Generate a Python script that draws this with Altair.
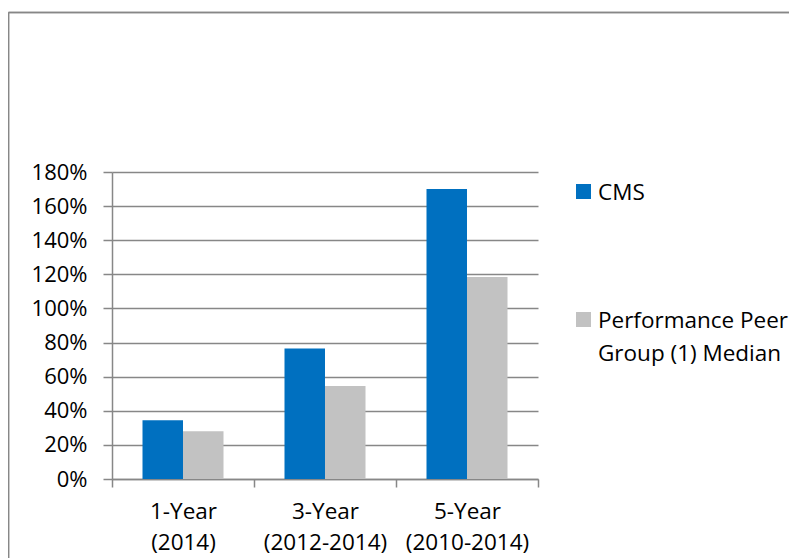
import altair as alt
import pandas as pd

categories = ["1-Year|(2014)", "3-Year|(2012-2014)", "5-Year|(2010-2014)"]
series = ["CMS", "Performance Peer Group (1) Median"]
cms_values = [0.345, 0.765, 1.70]
peer_values = [0.28, 0.545, 1.185]
y_ticks = [0, 0.2, 0.4, 0.6, 0.8, 1.0, 1.2, 1.4, 1.6, 1.8]
legend_lines = [["CMS"], ["Performance Peer", "Group (1) Median"]]
colors = ["#0070C0", "#C2C2C2"]

rows = []
for c, a, b in zip(categories, cms_values, peer_values):
    rows.append({"period": c, "series": series[0], "value": a})
    rows.append({"period": c, "series": series[1], "value": b})
df = pd.DataFrame(rows)

FONT = "Open Sans"
GRAY = "#878787"

bars = alt.Chart(df).mark_bar(size=40.5).encode(
    x=alt.X("period:N", sort=categories, title=None,
            scale=alt.Scale(paddingInner=0, paddingOuter=0),
            axis=alt.Axis(labelAngle=0, tickBand="extent", tickSize=8, tickColor=GRAY,
                          domainColor=GRAY, labelExpr="split(datum.label, '|')",
                          labelFontSize=22.5, labelFont=FONT, labelColor="#000000",
                          labelPadding=13, labelLineHeight=31, grid=False)),
    xOffset=alt.XOffset("series:N", sort=series,
                        scale=alt.Scale(paddingInner=0, paddingOuter=0.753)),
    y=alt.Y("value:Q", title=None,
            scale=alt.Scale(domain=[0, 1.8], nice=False),
            axis=alt.Axis(values=y_ticks, format=".0%", tickSize=9, tickColor=GRAY,
                          domainColor=GRAY, gridColor=GRAY, labelFontSize=22,
                          labelFont=FONT, labelColor="#000000", labelPadding=16)),
    color=alt.Color("series:N", sort=series,
                    scale=alt.Scale(domain=series, range=colors), legend=None),
)

# manual legend (symbol + wrapped label)
leg_df = pd.DataFrame({"series": series})
legend_layers = []
for i, (s, lines) in enumerate(zip(series, legend_lines)):
    yc = 19.5 + i * 128
    sym = alt.Chart(leg_df).transform_filter(alt.datum.series == s).mark_square(
        size=225, color=colors[i], opacity=1).encode(x=alt.value(471.5), y=alt.value(yc))
    txt = alt.Chart(leg_df).transform_filter(alt.datum.series == s).mark_text(
        align="left", baseline="middle", font=FONT, fontSize=22.5, lineHeight=33,
        color="#000000").encode(x=alt.value(486), y=alt.value(yc + 1), text=alt.value(lines))
    legend_layers += [sym, txt]

frame_top = alt.Chart(leg_df).mark_rule(color=GRAY, strokeWidth=1.5).encode(
    x=alt.value(-103.5), x2=alt.value(700), y=alt.value(-159.5))
frame_left = alt.Chart(leg_df).mark_rule(color=GRAY, strokeWidth=1.5).encode(
    x=alt.value(-103.5), y=alt.value(-159.5), y2=alt.value(400))

chart = alt.layer(frame_top, frame_left, bars, *legend_layers).properties(
    width=426, height=307,
    autosize=alt.AutoSizeParams(type="none"),
    padding={"left": 104, "top": 164, "right": 251, "bottom": 79},
).configure_view(stroke=None).configure_axis(domainWidth=1.5, tickWidth=1.5, gridWidth=1.5)

chart.save("out.html", embed_options={"renderer": "svg", "actions": False})
